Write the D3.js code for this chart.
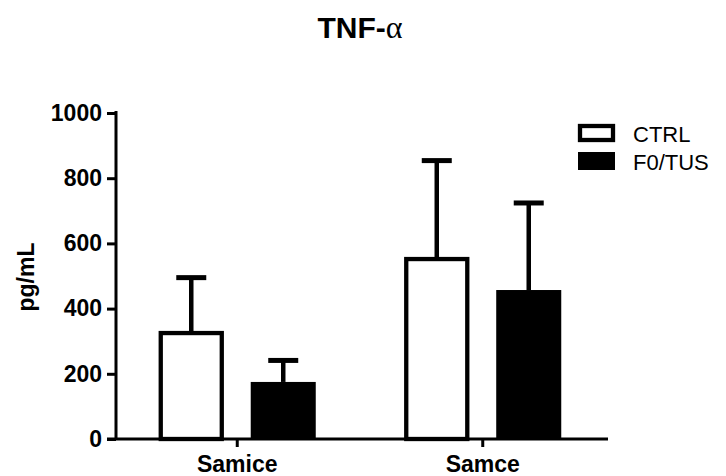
<!DOCTYPE html>
<html>
<head>
<meta charset="utf-8">
<script src="https://cdn.jsdelivr.net/npm/d3@7"></script>
<style>
  html, body { margin: 0; padding: 0; background: #fff; }
  svg { display: block; }
  text { font-family: "Liberation Sans", Arial, sans-serif; fill: #000; }
</style>
</head>
<body>
<svg id="chart" width="726" height="476"></svg>
<script>
// ---- data ----
const groups = ["Samice", "Samce"];
const seriesNames = ["CTRL", "F0/TUS"];
const ctrlMeans = [325, 552];
const ctrlErrors = [170, 302];
const tusMeans = [175, 457];
const tusErrors = [66, 267];
const yTicks = [0, 200, 400, 600, 800, 1000];
const titleMain = "TNF-";
const titleGreek = "α";
const yLabel = "pg/mL";

const svg = d3.select("#chart");

const x0 = d3.scaleBand().domain(groups).range([114.5, 605.5]).paddingInner(0).paddingOuter(0);
const x1 = d3.scaleBand().domain(seriesNames).range([-78.5, 78.5]).paddingInner(0.293).paddingOuter(0);
const y = d3.scaleLinear().domain([0, 1000]).range([439, 113]);

const data = [];
groups.forEach((g, i) => {
  data.push({group: g, series: "CTRL", mean: ctrlMeans[i], err: ctrlErrors[i]});
  data.push({group: g, series: "F0/TUS", mean: tusMeans[i], err: tusErrors[i]});
});

// title
const title = svg.append("text")
  .attr("x", 360).attr("y", 38)
  .attr("text-anchor", "middle")
  .style("font-size", "30px").style("font-weight", "bold");
title.append("tspan").text(titleMain);
title.append("tspan").text(titleGreek)
  .style("font-family", "'Liberation Serif', 'DejaVu Serif', serif")
  .style("font-weight", "normal").style("font-size", "32px");

// bars
const barG = svg.append("g");
data.forEach(d => {
  const cx = x0(d.group) + x0.bandwidth() / 2;
  const bx = cx + x1(d.series);
  const bw = x1.bandwidth();
  const xc = bx + bw / 2;
  barG.append("line")
    .attr("x1", xc).attr("x2", xc)
    .attr("y1", y(d.mean)).attr("y2", y(d.mean + d.err))
    .attr("stroke", "#000").attr("stroke-width", 4.5);
  barG.append("line")
    .attr("x1", xc - 15).attr("x2", xc + 15)
    .attr("y1", y(d.mean + d.err)).attr("y2", y(d.mean + d.err))
    .attr("stroke", "#000").attr("stroke-width", 5);
  if (d.series === "CTRL") {
    barG.append("rect")
      .attr("x", bx + 2).attr("y", y(d.mean))
      .attr("width", bw - 4).attr("height", y(0) - y(d.mean))
      .attr("fill", "#fff").attr("stroke", "#000").attr("stroke-width", 4.3);
  } else {
    barG.append("rect")
      .attr("x", bx).attr("y", y(d.mean))
      .attr("width", bw).attr("height", y(0) - y(d.mean))
      .attr("fill", "#000");
  }
});

// y axis
const yAxis = d3.axisLeft(y).tickValues(yTicks).tickFormat(d3.format("d"))
  .tickSize(9).tickPadding(5).tickSizeOuter(0);
const yg = svg.append("g").attr("transform", "translate(116,0)").call(yAxis);
yg.select(".domain").attr("stroke", "#000").attr("stroke-width", 3).attr("d", "M0,111V439");
yg.selectAll(".tick line").attr("stroke", "#000").attr("stroke-width", 3);
yg.selectAll(".tick text")
  .style("font-family", "'Liberation Sans', Arial, sans-serif")
  .style("font-size", "23px").style("font-weight", "bold").attr("fill", "#000");

// x axis
const xAxis = d3.axisBottom(x0).tickSize(8).tickPadding(9).tickSizeOuter(0);
const xg = svg.append("g").attr("transform", "translate(0,439)").call(xAxis);
xg.select(".domain").attr("stroke", "#000").attr("stroke-width", 3)
  .attr("d", "M107,0H608");
xg.selectAll(".tick line").attr("stroke", "#000").attr("stroke-width", 3);
xg.selectAll(".tick text")
  .style("font-family", "'Liberation Sans', Arial, sans-serif")
  .style("font-size", "23px").style("font-weight", "bold").attr("fill", "#000");

// y label
svg.append("text")
  .attr("transform", "translate(34,277) rotate(-90)")
  .attr("text-anchor", "middle")
  .style("font-size", "23px").style("font-weight", "bold")
  .text(yLabel);

// legend
const leg = svg.append("g");
seriesNames.forEach((s, i) => {
  const yy = 124 + i * 28;
  if (i === 0) {
    leg.append("rect").attr("x", 580).attr("y", yy + 2).attr("width", 33).attr("height", 14)
      .attr("fill", "#fff").attr("stroke", "#000").attr("stroke-width", 4.3);
  } else {
    leg.append("rect").attr("x", 578).attr("y", yy).attr("width", 37).attr("height", 18)
      .attr("fill", "#000");
  }
  leg.append("text").attr("x", 633).attr("y", yy + 18)
    .style("font-size", "22px").text(s);
});
</script>
</body>
</html>
